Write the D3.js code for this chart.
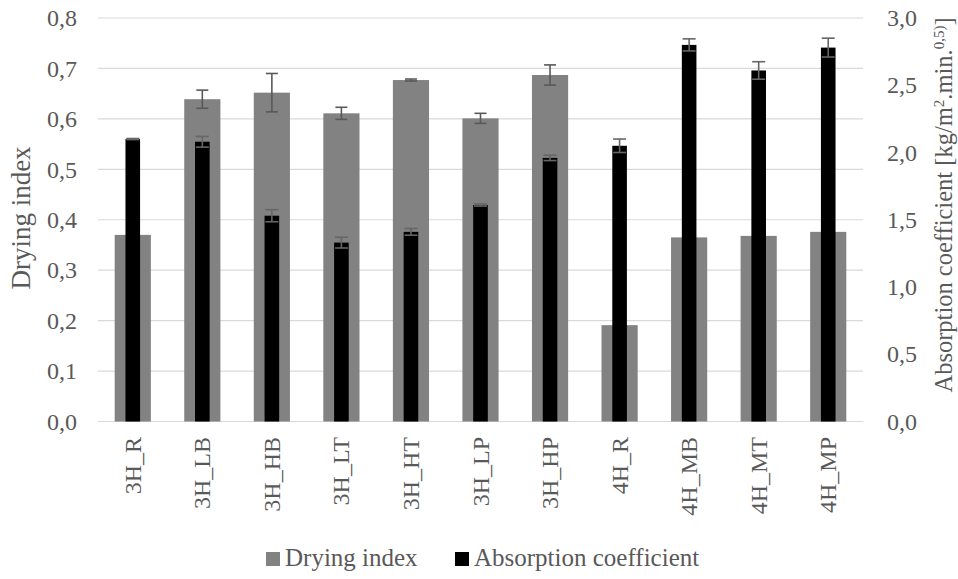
<!DOCTYPE html>
<html lang="en">
<head>
    <meta charset="UTF-8">
    <title>Drying index and absorption coefficient</title>
    <script src="https://d3js.org/d3.v7.min.js"></script>
    <style>
        body { margin: 0; background: #fff; }
    </style>
</head>
<body>
    <svg width="958" height="579"></svg>
    <script>
        const categories = ["3H_R", "3H_LB", "3H_HB", "3H_LT", "3H_HT", "3H_LP", "3H_HP", "4H_R", "4H_MB", "4H_MT", "4H_MP"];
        const dryingIndex = [0.370, 0.639, 0.652, 0.611, 0.677, 0.601, 0.687, 0.191, 0.365, 0.368, 0.376];
        const dryingErr = [0, 0.018, 0.038, 0.012, 0.002, 0.010, 0.020, 0, 0, 0, 0];
        const absorption = [2.10, 2.08, 1.53, 1.33, 1.41, 1.61, 1.96, 2.05, 2.80, 2.61, 2.78];
        const absorptionErr = [0.004, 0.04, 0.045, 0.04, 0.025, 0.008, 0.02, 0.05, 0.045, 0.065, 0.07];
        const leftTicks = [0, 0.1, 0.2, 0.3, 0.4, 0.5, 0.6, 0.7, 0.8];
        const rightTicks = [0, 0.5, 1.0, 1.5, 2.0, 2.5, 3.0];

        const FONT = "'Liberation Serif', 'Times New Roman', Tinos, 'DejaVu Serif', serif";
        const TXT = "#595959";

        const svg = d3.select("svg");
        const plotLeft = 98, plotRight = 863, plotTop = 18, plotBottom = 421.5;

        const x = d3.scaleBand().domain(categories).range([plotLeft, plotRight]);
        const yL = d3.scaleLinear().domain([0, 0.8]).range([plotBottom, plotTop]);
        const yR = d3.scaleLinear().domain([0, 3.0]).range([plotBottom, plotTop]);
        const comma = v => d3.format(".1f")(v).replace(".", ",");

        // grid
        svg.append("g")
            .selectAll("line")
            .data(leftTicks)
            .enter()
            .append("line")
            .attr("x1", plotLeft).attr("x2", plotRight)
            .attr("y1", d => yL(d)).attr("y2", d => yL(d))
            .attr("stroke", "#d9d9d9")
            .attr("stroke-width", 1.2);

        // axes labels (left and right)
        const axL = svg.append("g")
            .attr("transform", `translate(${plotLeft - 21},0)`)
            .call(d3.axisLeft(yL).tickValues(leftTicks).tickFormat(comma).tickSize(0).tickPadding(0));
        const axR = svg.append("g")
            .attr("transform", `translate(${plotRight + 24},0)`)
            .call(d3.axisRight(yR).tickValues(rightTicks).tickFormat(comma).tickSize(0).tickPadding(0));
        [axL, axR].forEach(a => {
            a.attr("font-family", null);
            a.select(".domain").remove();
            a.selectAll("text").style("font-family", FONT).style("font-size", "24px").attr("fill", TXT);
        });

        const grayW = x.bandwidth() * 0.52;
        const blackW = x.bandwidth() * 0.21;
        const cx = d => x(d) + x.bandwidth() / 2;

        // drying index bars
        svg.append("g")
            .selectAll("rect")
            .data(categories)
            .enter()
            .append("rect")
            .attr("x", d => cx(d) - grayW / 2)
            .attr("width", grayW)
            .attr("y", (d, i) => yL(dryingIndex[i]))
            .attr("height", (d, i) => plotBottom - yL(dryingIndex[i]))
            .attr("fill", "#828282");

        // drying index error bars
        const errG = svg.append("g").attr("stroke", "#595959").attr("stroke-width", 1.6);
        categories.forEach((c, i) => {
            if (!dryingErr[i]) return;
            const y1 = yL(dryingIndex[i] + dryingErr[i]), y2 = yL(dryingIndex[i] - dryingErr[i]);
            errG.append("line").attr("x1", cx(c)).attr("x2", cx(c)).attr("y1", y1).attr("y2", y2);
            errG.append("line").attr("x1", cx(c) - 6).attr("x2", cx(c) + 6).attr("y1", y1).attr("y2", y1);
            errG.append("line").attr("x1", cx(c) - 6).attr("x2", cx(c) + 6).attr("y1", y2).attr("y2", y2);
        });

        // absorption bars
        svg.append("g")
            .selectAll("rect")
            .data(categories)
            .enter()
            .append("rect")
            .attr("x", d => cx(d) - blackW / 2)
            .attr("width", blackW)
            .attr("y", (d, i) => yR(absorption[i]))
            .attr("height", (d, i) => plotBottom - yR(absorption[i]))
            .attr("fill", "#000");

        const errB = svg.append("g").attr("stroke", "#666").attr("stroke-width", 1.6);
        categories.forEach((c, i) => {
            if (!absorptionErr[i]) return;
            const y1 = yR(absorption[i] + absorptionErr[i]), y2 = yR(absorption[i] - absorptionErr[i]);
            errB.append("line").attr("x1", cx(c)).attr("x2", cx(c)).attr("y1", y1).attr("y2", y2);
            errB.append("line").attr("x1", cx(c) - 6.5).attr("x2", cx(c) + 6.5).attr("y1", y1).attr("y2", y1);
            errB.append("line").attr("x1", cx(c) - 6.5).attr("x2", cx(c) + 6.5).attr("y1", y2).attr("y2", y2);
        });

        // category labels
        svg.append("g")
            .selectAll("text")
            .data(categories)
            .enter()
            .append("text")
            .attr("transform", d => `translate(${cx(d) + 8},437) rotate(-90)`)
            .attr("text-anchor", "end")
            .attr("fill", TXT)
            .style("font-family", FONT)
            .style("font-size", "24px")
            .text(d => d);

        // axis titles
        svg.append("text")
            .attr("transform", "translate(30,218) rotate(-90)")
            .attr("text-anchor", "middle")
            .attr("fill", TXT)
            .style("font-family", FONT)
            .style("font-size", "27px")
            .text("Drying index");

        const rt = svg.append("text")
            .attr("transform", "translate(952,205) rotate(-90)")
            .attr("text-anchor", "middle")
            .attr("fill", TXT)
            .style("font-family", FONT)
            .style("font-size", "24.5px");
        rt.append("tspan").text("Absorption coefficient [kg/m");
        rt.append("tspan").attr("baseline-shift", "super").style("font-size", "15px").text("2");
        rt.append("tspan").text(".min.");
        rt.append("tspan").attr("baseline-shift", "super").style("font-size", "15px").text("0,5)");
        rt.append("tspan").text("]");

        // legend
        const legend = [
            { label: "Drying index", color: "#828282", x: 266 },
            { label: "Absorption coefficient", color: "#000", x: 455 }
        ];
        const lg = svg.append("g");
        legend.forEach(l => {
            lg.append("rect").attr("x", l.x).attr("y", 552).attr("width", 14).attr("height", 14).attr("fill", l.color);
            lg.append("text").attr("x", l.x + 19).attr("y", 566)
                .attr("fill", TXT)
                .style("font-family", FONT)
                .style("font-size", "25px")
                .text(l.label);
        });
    </script>
</body>
</html>
